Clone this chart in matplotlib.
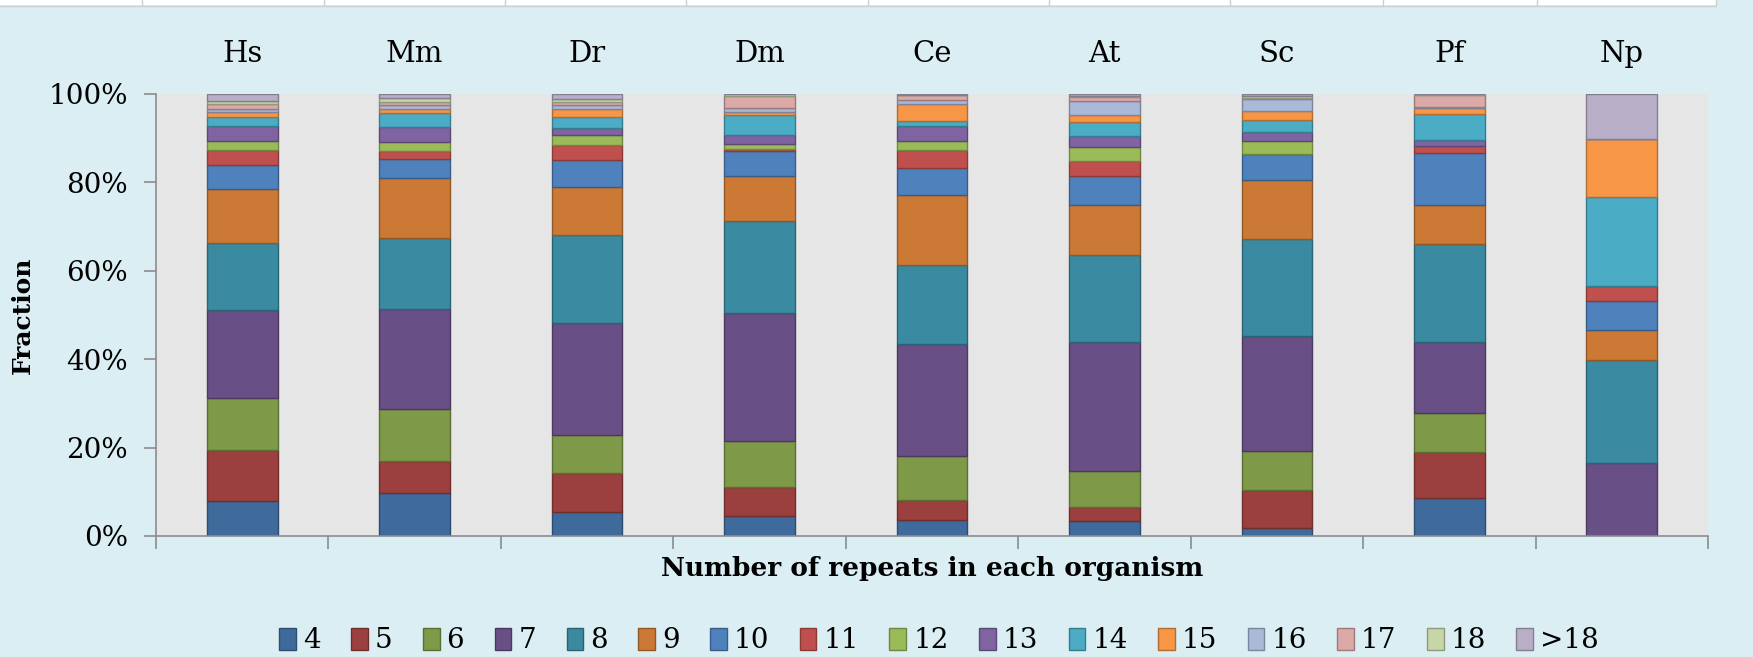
import matplotlib
matplotlib.use("Agg")
import matplotlib.pyplot as plt
import numpy as np
from matplotlib.patches import Patch, Rectangle
from matplotlib.lines import Line2D
from matplotlib.ticker import FuncFormatter

organisms = ["Hs", "Mm", "Dr", "Dm", "Ce", "At", "Sc", "Pf", "Np"]
repeat_labels = ["4", "5", "6", "7", "8", "9", "10", "11", "12", "13",
                 "14", "15", "16", "17", "18", ">18"]

# percentage of each repeat class (4 .. >18) per organism
hs = [8.0, 11.5, 11.7, 19.9, 15.2, 12.3, 5.4, 3.4, 1.9, 3.4, 2.2, 1.0, 0.8, 1.0, 0.8, 1.5]
mm = [9.7, 7.3, 11.7, 22.7, 16.0, 13.6, 4.3, 1.7, 2.1, 3.4, 3.2, 0.9, 0.8, 0.9, 0.8, 0.9]
dr = [5.4, 8.9, 8.5, 25.4, 20.0, 10.8, 6.1, 3.4, 2.3, 1.4, 2.5, 1.8, 0.9, 0.9, 0.6, 1.1]
dm = [4.6, 6.5, 10.5, 28.9, 20.7, 10.2, 5.6, 0.6, 1.1, 2.1, 4.5, 0.6, 0.9, 2.7, 0.4, 0.1]
ce = [3.7, 4.4, 10.1, 25.3, 17.7, 16.0, 6.1, 4.0, 2.0, 3.5, 1.0, 3.9, 1.0, 1.0, 0.1, 0.2]
at = [3.5, 3.0, 8.1, 29.4, 19.5, 11.5, 6.5, 3.3, 3.1, 2.5, 3.3, 1.6, 3.2, 0.8, 0.2, 0.5]
sc = [1.8, 8.7, 8.7, 26.0, 22.0, 13.4, 5.9, 0.0, 2.9, 1.9, 2.9, 1.9, 2.8, 0.3, 0.3, 0.5]
pf = [8.7, 10.3, 8.8, 16.1, 22.2, 8.7, 11.9, 1.5, 0.1, 1.2, 6.0, 1.3, 0.2, 2.8, 0.1, 0.1]
np_ = [0.0, 0.0, 0.0, 16.5, 23.4, 6.6, 6.7, 3.4, 0.0, 0.0, 20.0, 13.2, 0.0, 0.0, 0.0, 10.2]

colors = ["#3F6A9C", "#9B403E", "#7E9A48", "#684F86", "#3A8BA1", "#CB7935",
          "#4F81BD", "#C0504D", "#9BBB59", "#8064A2", "#4BACC6", "#F79646",
          "#A9B9D8", "#DAA9A8", "#C6D6A8", "#B8AEC8"]

data = np.array([hs, mm, dr, dm, ce, at, sc, pf, np_]) / 100.0

def darker(c, f=0.72):
    rgb = np.array(matplotlib.colors.to_rgb(c))
    return tuple(rgb * f)

plt.rcParams['font.family'] = ['DejaVu Serif']

W, H = 1753, 657
fig = plt.figure(figsize=(W / 100, H / 100), dpi=100)
fig.patch.set_facecolor("#DBEEF3")

# top white strip (page element above chart)
fig.patches.append(Rectangle((0, 1 - 5 / H), 1716 / W, 5 / H, transform=fig.transFigure,
                             facecolor="white", edgecolor="none", zorder=0))
fig.lines.append(Line2D([0, 1716 / W], [1 - 5.5 / H, 1 - 5.5 / H], transform=fig.transFigure,
                        color="#C8D0D8", lw=1))
for xs in [142, 324, 505, 686, 868, 1049, 1230, 1383, 1537, 1716]:
    fig.lines.append(Line2D([xs / W, xs / W], [1 - 5 / H, 1], transform=fig.transFigure,
                            color="#C8D0D8", lw=1))

left, right = 156 / W, 1708 / W
bottom, top = 1 - 536 / H, 1 - 94 / H
ax = fig.add_axes([left, bottom, right - left, top - bottom])
ax.set_facecolor("#E6E6E6")

x = np.arange(len(organisms))
base = np.zeros(len(organisms))
for j, lab in enumerate(repeat_labels):
    vals = data[:, j]
    ax.bar(x, vals, width=0.41, bottom=base, color=colors[j],
           edgecolor=darker(colors[j]), linewidth=1.0, label=lab, zorder=2)
    base += vals

ax.set_xlim(-0.5, len(organisms) - 0.5)
ax.set_ylim(0, 1)
ax.set_yticks(np.arange(0, 1.01, 0.2))
ax.yaxis.set_major_formatter(FuncFormatter(lambda v, p: f"{int(round(v * 100))}%"))
ax.tick_params(axis='y', labelsize=20, length=9, width=1.2, color="#8C8C8C", pad=11)

# category boundary ticks at the bottom, names at the top
ax.set_xticks(np.arange(-0.5, len(organisms), 1.0))
ax.set_xticklabels([])
ax.tick_params(axis='x', which='major', length=9, width=1.2, color="#8C8C8C")
ax.set_xticks(x, minor=True)
ax.set_xticklabels(organisms, minor=True)
ax.tick_params(axis='x', which='minor', length=0, bottom=False, labelbottom=False,
               top=True, labeltop=True, labelsize=21, pad=18.5)

for s in ["top", "right"]:
    ax.spines[s].set_visible(False)
for s in ["left", "bottom"]:
    ax.spines[s].set_color("#8C8C8C")
    ax.spines[s].set_linewidth(1.2)

ax.set_ylabel("Fraction", fontsize=18, fontweight="bold", labelpad=10)
ax.set_xlabel("Number of repeats in each organism", fontsize=19, fontweight="bold", labelpad=2)

handles = [Patch(facecolor=colors[j], edgecolor=darker(colors[j]), linewidth=1.0,
                 label=repeat_labels[j]) for j in range(len(repeat_labels))]
fig.legend(handles=handles, loc="center", bbox_to_anchor=(939 / W, 1 - 641 / H), ncol=16,
           frameon=False, fontsize=20, handlelength=0.6, handleheight=0.85,
           handletextpad=0.25, columnspacing=1.1, borderaxespad=0)

fig.savefig("out.png", dpi=100, facecolor=fig.get_facecolor())
